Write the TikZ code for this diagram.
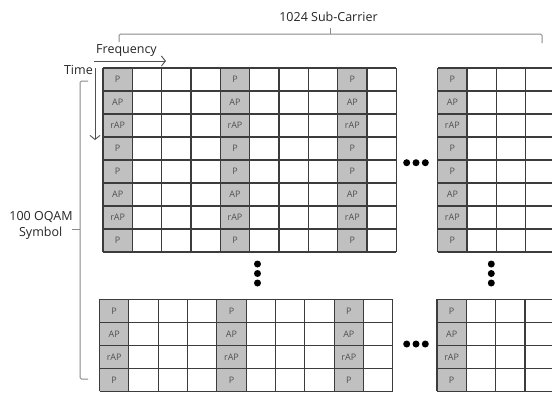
\documentclass[tikz,border=0pt]{standalone}
\usepackage{fontspec}
\setmainfont{Open Sans}
\usetikzlibrary{arrows.meta}
\definecolor{gridline}{HTML}{3C3C3C}
\definecolor{pilot}{HTML}{C0C0C0}
\definecolor{celltext}{HTML}{505050}
\definecolor{bracecol}{HTML}{8A8A8A}
\definecolor{arrowcol}{HTML}{505050}
\def\cw{29.33}
\def\rh{23}
% #1 name, #2 x0, #3 y0, #4 ncols, #5 nrows, #6 pilot cols, #7 labels
\newcommand\symgrid[7]{%
  \foreach \c in {#6} {\fill[pilot] (#2+\c*\cw,#3) rectangle ++(\cw,#5*\rh);}
  \foreach \i in {0,...,#4} {\draw[gridrule] (#2+\i*\cw,#3) -- ++(0,#5*\rh);}
  \foreach \j in {0,...,#5} {\draw[gridrule] (#2,#3+\j*\rh) -- ++(#4*\cw,0);}
  \foreach \c in {#6} {
    \foreach \lab [count=\r from 0] in {#7} {
      \node[celllabel] (#1-\c-\r) at (#2+\c*\cw+0.5*\cw,#3+\r*\rh+0.5*\rh) {\lab};
    }
  }%
}
\begin{document}
\begin{tikzpicture}[x=1pt,y=-1pt,
  gridrule/.style={draw=gridline,line width=1.1pt},
  celllabel/.style={inner sep=0pt,text=celltext,font=\fontsize{9}{11}\selectfont},
  biglabel/.style={inner sep=0pt,text=black!85,font=\fontsize{12.5}{15}\selectfont},
  bracket/.style={draw=bracecol,line width=1pt,rounded corners=1.5pt},
  dirarrow/.style={draw=arrowcol,line width=0.9pt,-{Straight Barb[length=4pt,width=10pt]}},
  dotmark/.style={circle,fill=black,inner sep=0pt,minimum size=7pt}]
\useasboundingbox (0,0) rectangle (552,392);
\clip (0,0) rectangle (552,392);
\fill[white] (0,0) rectangle (552,392);

% grids
\symgrid{tl}{103}{68}{10}{8}{0,4,8}{P,AP,rAP,P,P,AP,rAP,P}
\symgrid{tr}{437.7}{68}{4}{8}{0}{P,AP,rAP,P,P,AP,rAP,P}
\symgrid{bl}{99.5}{299.3}{10}{4}{0,4,8}{P,AP,rAP,P}
\symgrid{br}{437}{299.3}{4}{4}{0}{P,AP,rAP,P}

% dots
\node[dotmark] (h1a) at (406.7,162.7) {};
\node[dotmark] (h1b) at (416,162.7) {};
\node[dotmark] (h1c) at (425.3,162.7) {};
\node[dotmark] (h2a) at (406.7,344) {};
\node[dotmark] (h2b) at (416,344) {};
\node[dotmark] (h2c) at (425.3,344) {};
\node[dotmark] (v1a) at (257.5,264) {};
\node[dotmark] (v1b) at (257.5,273.5) {};
\node[dotmark] (v1c) at (257.5,283) {};
\node[dotmark] (v2a) at (491.3,264) {};
\node[dotmark] (v2b) at (491.3,273.5) {};
\node[dotmark] (v2c) at (491.3,283) {};

% labels
\node[biglabel,anchor=base] (sub) at (328.5,21.7) {1024 Sub-Carrier};
\node[biglabel,anchor=base west] (freq) at (96,53.3) {Frequency};
\node[biglabel,anchor=base east] (time) at (93,74) {Time};
\node[biglabel,anchor=base] (oqam) at (41,220.7) {100 OQAM};
\node[biglabel,anchor=base] (symb) at (40.7,236.5) {Symbol};

% direction arrows
\coordinate (fs) at (94,61);
\coordinate (fe) at (166,61);
\draw[dirarrow] (fs) -- (fe);
\coordinate (ts) at (95,68);
\coordinate (te) at (95,140);
\draw[dirarrow] (ts) -- (te);

% top bracket
\coordinate (tbl) at (119,42);
\coordinate (tbr) at (542,43);
\coordinate (tbm) at (330.3,34);
\coordinate (tbt) at (330.3,28);
\draw[bracket] (tbl) -- (119,34) -- (542,34) -- (tbr);
\draw[draw=bracecol,line width=1pt] (tbm) -- (tbt);

% left bracket
\coordinate (lbt) at (88,81);
\coordinate (lbb) at (88,379);
\coordinate (lbm) at (80,229);
\coordinate (lbn) at (72,229);
\draw[bracket] (lbt) -- (80,81) -- (80,379) -- (lbb);
\draw[draw=bracecol,line width=1pt] (lbm) -- (lbn);
\end{tikzpicture}
\end{document}
